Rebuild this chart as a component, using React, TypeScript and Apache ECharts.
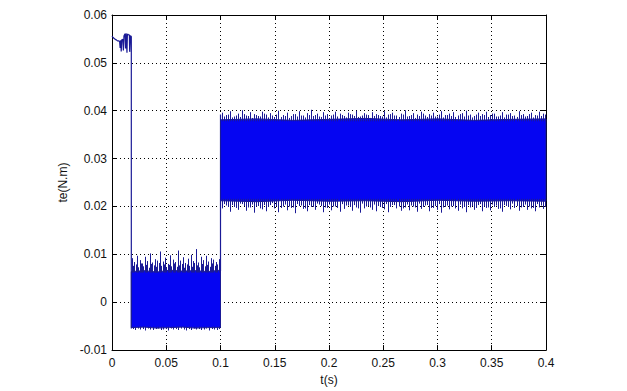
import React, { useEffect, useRef } from "react";
import * as echarts from "echarts";

// ---- axis ticks ----
const X_MIN = 0, X_MAX = 0.4, X_STEP = 0.05;
const Y_MIN = -0.01, Y_MAX = 0.06, Y_STEP = 0.01;

// ---- segment 0: start-up torque (t, te) ----
const SEG0_T = [0, 0.001, 0.002, 0.003, 0.004, 0.005, 0.006, 0.007, 0.0075, 0.008, 0.0085, 0.009, 0.01, 0.0105, 0.011, 0.012, 0.0125, 0.013, 0.0138, 0.0142, 0.015, 0.016, 0.0163, 0.017, 0.0178, 0.0178];
const SEG0_V = [0.0556, 0.0553, 0.0551, 0.0549, 0.0548, 0.0546, 0.0546, 0.0545, 0.0531, 0.0547, 0.0524, 0.0548, 0.0549, 0.0526, 0.0556, 0.0561, 0.0530, 0.0562, 0.0521, 0.0560, 0.0559, 0.0558, 0.0523, 0.0557, 0.0555, -0.0055];

// ---- band A (0.0178 .. 0.1) ----
const BAND_A_START = 0.0178, BAND_A_END = 0.1;
const BAND_A_TOP = [0.0064, 0.0066, 0.0063, 0.0067, 0.0065, 0.0066, 0.0064, 0.0067];
const BAND_A_BOTTOM = [-0.0053, -0.0052, -0.0054, -0.0053, -0.0052, -0.0054, -0.0053, -0.0053];
const SPIKES_A_TOP = [0.0092, 0.0084, 0.0097, 0.0088, 0.0081, 0.0095, 0.0086, 0.0102, 0.0083, 0.0090, 0.0087, 0.0106, 0.0085, 0.0093, 0.0080, 0.0098, 0.0089, 0.0084, 0.0108, 0.0087, 0.0094, 0.0082, 0.0091, 0.0099, 0.0086, 0.0111, 0.0083, 0.0095, 0.0088, 0.0097, 0.0085, 0.0092, 0.0089, 0.0084, 0.0090];
const SPIKES_A_TOP2 = [0.0076, 0.0079, 0.0073, 0.0081, 0.0075, 0.0078, 0.0072, 0.0080, 0.0077, 0.0074, 0.0082, 0.0076, 0.0079, 0.0073, 0.0078, 0.0075, 0.0081, 0.0074, 0.0077, 0.0080, 0.0072, 0.0079, 0.0076, 0.0074, 0.0082, 0.0077, 0.0073, 0.0080, 0.0075, 0.0078, 0.0074, 0.0081, 0.0076, 0.0079, 0.0075];
const SPIKES_A_BOTTOM = [-0.0056, -0.0058, -0.0055, -0.0057, -0.0056, -0.0059, -0.0055, -0.0057, -0.0058, -0.0056, -0.0055, -0.0058, -0.0057, -0.0056, -0.0059, -0.0055, -0.0057, -0.0056, -0.0058, -0.0055, -0.0057, -0.0059, -0.0056, -0.0058, -0.0055, -0.0057, -0.0056, -0.0058, -0.0057, -0.0055, -0.0059, -0.0056, -0.0057, -0.0058, -0.0056];

// ---- rise at t = 0.1 ----
const RISE_T = [0.1, 0.1];
const RISE_V = [0.0065, 0.0392];

// ---- band B (0.1 .. 0.4) ----
const BAND_B_START = 0.1, BAND_B_END = 0.4;
const BAND_B_TOP = [0.0381, 0.0383, 0.0380, 0.0382, 0.0384, 0.0381, 0.0383, 0.0380, 0.0382, 0.0383];
const BAND_B_BOTTOM = [0.0212, 0.0210, 0.0213, 0.0211, 0.0212, 0.0210, 0.0213, 0.0211, 0.0212, 0.0211];
const SPIKES_B_TOP = [0.0396, 0.0391, 0.0399, 0.0388, 0.0394, 0.0401, 0.0390, 0.0397, 0.0393, 0.0389, 0.0398, 0.0392, 0.0395, 0.0387, 0.0400, 0.0391, 0.0396, 0.0389, 0.0393, 0.0399, 0.0390, 0.0395, 0.0402, 0.0391, 0.0388, 0.0397, 0.0393, 0.0390, 0.0398, 0.0394, 0.0389, 0.0396, 0.0392, 0.0400, 0.0388, 0.0395, 0.0391, 0.0397, 0.0393, 0.0389, 0.0399, 0.0392, 0.0396, 0.0390, 0.0394, 0.0401, 0.0389, 0.0395, 0.0392, 0.0398, 0.0390, 0.0393, 0.0396, 0.0388, 0.0399, 0.0391, 0.0394, 0.0397, 0.0390, 0.0395, 0.0400, 0.0392, 0.0389, 0.0396, 0.0393, 0.0398, 0.0391, 0.0394, 0.0388, 0.0397, 0.0392, 0.0395, 0.0390, 0.0399, 0.0393, 0.0389, 0.0396, 0.0391, 0.0398, 0.0394];
const SPIKES_B_TOP2 = [0.0388, 0.0392, 0.0386, 0.0390, 0.0387, 0.0393, 0.0389, 0.0385, 0.0391, 0.0388, 0.0394, 0.0386, 0.0390, 0.0392, 0.0387, 0.0389, 0.0385, 0.0393, 0.0388, 0.0390, 0.0386, 0.0391, 0.0389, 0.0394, 0.0387, 0.0390, 0.0385, 0.0392, 0.0388, 0.0391, 0.0386, 0.0393, 0.0389, 0.0387, 0.0390, 0.0392, 0.0385, 0.0389, 0.0391, 0.0388, 0.0386, 0.0393, 0.0390, 0.0387, 0.0392, 0.0388, 0.0391, 0.0385, 0.0389, 0.0394, 0.0387, 0.0390, 0.0388, 0.0392, 0.0386, 0.0391, 0.0389, 0.0387, 0.0393, 0.0388, 0.0390, 0.0386, 0.0392, 0.0389, 0.0391, 0.0387, 0.0394, 0.0388, 0.0390, 0.0386, 0.0392, 0.0389, 0.0387, 0.0391, 0.0388, 0.0393, 0.0386, 0.0390, 0.0389, 0.0392];
const SPIKES_B_BOTTOM = [0.0196, 0.0202, 0.0189, 0.0199, 0.0193, 0.0205, 0.0191, 0.0198, 0.0187, 0.0201, 0.0194, 0.0190, 0.0203, 0.0196, 0.0188, 0.0200, 0.0192, 0.0197, 0.0186, 0.0201, 0.0195, 0.0190, 0.0199, 0.0193, 0.0204, 0.0188, 0.0197, 0.0192, 0.0200, 0.0189, 0.0195, 0.0202, 0.0191, 0.0198, 0.0187, 0.0196, 0.0201, 0.0193, 0.0190, 0.0199, 0.0194, 0.0188, 0.0203, 0.0196, 0.0191, 0.0198, 0.0192, 0.0200, 0.0189, 0.0195, 0.0202, 0.0190, 0.0197, 0.0193, 0.0187, 0.0199, 0.0194, 0.0201, 0.0191, 0.0196, 0.0188, 0.0198, 0.0193, 0.0203, 0.0190, 0.0197, 0.0192, 0.0199, 0.0195, 0.0189, 0.0201, 0.0194, 0.0197, 0.0191, 0.0199, 0.0193, 0.0196, 0.0190, 0.0198, 0.0195];
const SPIKES_B_BOTTOM2 = [0.0205, 0.0199, 0.0203, 0.0197, 0.0206, 0.0201, 0.0198, 0.0204, 0.0200, 0.0196, 0.0203, 0.0199, 0.0207, 0.0201, 0.0197, 0.0204, 0.0200, 0.0198, 0.0205, 0.0202, 0.0196, 0.0203, 0.0199, 0.0206, 0.0201, 0.0198, 0.0204, 0.0200, 0.0197, 0.0205, 0.0202, 0.0199, 0.0203, 0.0196, 0.0206, 0.0200, 0.0198, 0.0204, 0.0201, 0.0197, 0.0205, 0.0199, 0.0203, 0.0200, 0.0196, 0.0204, 0.0202, 0.0198, 0.0206, 0.0199, 0.0203, 0.0197, 0.0201, 0.0205, 0.0198, 0.0202, 0.0200, 0.0196, 0.0204, 0.0199, 0.0203, 0.0201, 0.0197, 0.0205, 0.0200, 0.0198, 0.0204, 0.0202, 0.0196, 0.0203, 0.0199, 0.0206, 0.0201, 0.0198, 0.0204, 0.0200, 0.0197, 0.0205, 0.0202, 0.0199];

const FILL = "#0505f2";
const EDGE = "#1a1a96";
const FONT = "Liberation Sans, Arial, sans-serif";

// place n samples evenly across [start, end] (offset = fraction of one slot)
function spread(start: number, end: number, vals: number[], offset = 0.5): number[][] {
  const n = vals.length;
  return vals.map((v, i) => [start + ((end - start) * (i + offset)) / n, v]);
}
function spreadEdge(start: number, end: number, vals: number[]): number[][] {
  const n = vals.length;
  return vals.map((v, i) => [start + ((end - start) * i) / (n - 1), v]);
}

export default function App() {
  const ref = useRef<HTMLDivElement>(null);
  useEffect(() => {
    if (!ref.current) return;
    const chart = echarts.init(ref.current, undefined, { renderer: "svg" });

    const bands = [
      { top: spreadEdge(BAND_A_START, BAND_A_END, BAND_A_TOP), bottom: spreadEdge(BAND_A_START, BAND_A_END, BAND_A_BOTTOM) },
      { top: spreadEdge(BAND_B_START, BAND_B_END, BAND_B_TOP), bottom: spreadEdge(BAND_B_START, BAND_B_END, BAND_B_BOTTOM) },
    ];

    const spikeData: number[][] = [];
    spread(BAND_A_START, BAND_A_END, SPIKES_A_TOP, 0.25).forEach(([t, v]) => spikeData.push([t, 0.0062, v]));
    spread(BAND_A_START, BAND_A_END, SPIKES_A_TOP2, 0.75).forEach(([t, v]) => spikeData.push([t, 0.0062, v]));
    spread(BAND_A_START, BAND_A_END, SPIKES_A_BOTTOM, 0.5).forEach(([t, v]) => spikeData.push([t, -0.0051, v]));
    spread(BAND_B_START, BAND_B_END, SPIKES_B_TOP, 0.25).forEach(([t, v]) => spikeData.push([t, 0.0378, v]));
    spread(BAND_B_START, BAND_B_END, SPIKES_B_TOP2, 0.75).forEach(([t, v]) => spikeData.push([t, 0.0378, v]));
    spread(BAND_B_START, BAND_B_END, SPIKES_B_BOTTOM, 0.25).forEach(([t, v]) => spikeData.push([t, 0.0216, v]));
    spread(BAND_B_START, BAND_B_END, SPIKES_B_BOTTOM2, 0.75).forEach(([t, v]) => spikeData.push([t, 0.0216, v]));

    const axisLine = { show: true, onZero: false, lineStyle: { color: "#000", width: 1 } };
    const tick = { show: true, inside: true, length: 5, lineStyle: { color: "#000" } };
    const grid = { show: true, lineStyle: { color: "#000", type: [1, 3] as any, width: 1 } };
    const label = { color: "#111", fontSize: 12, fontFamily: FONT };

    chart.setOption({
      animation: false,
      backgroundColor: "#fff",
      grid: { left: 112, right: 81, top: 15, bottom: 34, containLabel: false },
      xAxis: [
        {
          type: "value", min: X_MIN, max: X_MAX, interval: X_STEP, position: "bottom",
          axisLine, axisTick: tick, splitLine: grid,
          axisLabel: { ...label, margin: 7 },
          name: "t(s)", nameLocation: "middle", nameGap: 21,
          nameTextStyle: { color: "#111", fontSize: 12, fontFamily: FONT },
        },
        {
          type: "value", min: X_MIN, max: X_MAX, interval: X_STEP, position: "top",
          axisLine, axisTick: tick, splitLine: { show: false }, axisLabel: { show: false },
        },
      ],
      yAxis: [
        {
          type: "value", min: Y_MIN, max: Y_MAX, interval: Y_STEP, position: "left",
          axisLine, axisTick: tick, splitLine: grid,
          axisLabel: { ...label, margin: 5 },
          name: "te(N.m)", nameLocation: "middle", nameGap: 43, nameRotate: 90,
          nameTextStyle: { color: "#111", fontSize: 12, fontFamily: FONT },
        },
        {
          type: "value", min: Y_MIN, max: Y_MAX, interval: Y_STEP, position: "right",
          axisLine, axisTick: tick, splitLine: { show: false }, axisLabel: { show: false },
        },
      ],
      series: [
        {
          type: "custom",
          name: "bands",
          xAxisIndex: 0, yAxisIndex: 0,
          data: [[BAND_A_START, 0], [BAND_B_START, 1]],
          encode: { x: 0 },
          renderItem: (params: any, api: any) => {
            const b = bands[params.dataIndex];
            const pts: number[][] = [];
            b.top.forEach((p) => pts.push(api.coord(p)));
            b.bottom.slice().reverse().forEach((p) => pts.push(api.coord(p)));
            return {
              type: "polygon",
              shape: { points: pts },
              style: { fill: FILL, stroke: EDGE, lineWidth: 1 },
            };
          },
          z: 2,
        },
        {
          type: "custom",
          name: "spikes",
          xAxisIndex: 0, yAxisIndex: 0,
          data: spikeData,
          encode: { x: 0, y: [1, 2] },
          renderItem: (params: any, api: any) => {
            const t = api.value(0);
            const a = api.coord([t, api.value(1)]);
            const b = api.coord([t, api.value(2)]);
            return {
              type: "line",
              shape: { x1: Math.round(a[0]) + 0.5, y1: a[1], x2: Math.round(b[0]) + 0.5, y2: b[1] },
              style: { stroke: EDGE, lineWidth: 1 },
            };
          },
          z: 3,
        },
        {
          type: "line",
          name: "start",
          data: SEG0_T.map((t, i) => [t, SEG0_V[i]]),
          showSymbol: false,
          lineStyle: { color: EDGE, width: 1.2 },
          z: 4,
        },
        {
          type: "line",
          name: "rise",
          data: RISE_T.map((t, i) => [t, RISE_V[i]]),
          showSymbol: false,
          lineStyle: { color: EDGE, width: 1.2 },
          z: 4,
        },
      ],
    });
    return () => chart.dispose();
  }, []);
  return (
    <div
      ref={ref}
      style={{ position: "fixed", left: 0, top: 0, width: 627, height: 391, background: "#fff" }}
    />
  );
}
